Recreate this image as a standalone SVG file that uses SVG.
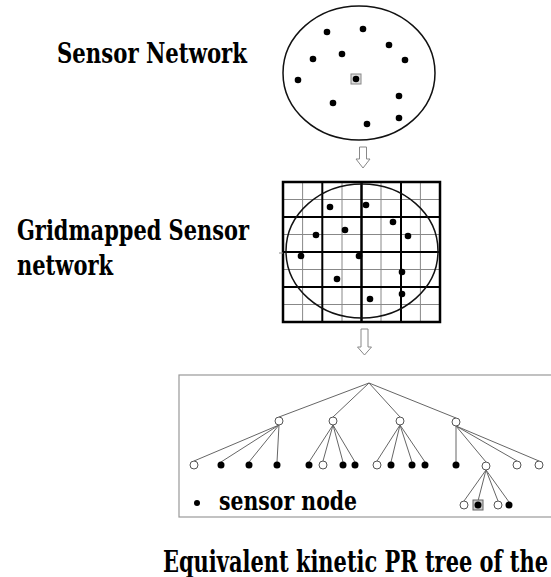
<svg xmlns="http://www.w3.org/2000/svg" width="551" height="577" viewBox="0 0 551 577">
<style>
text{font-family:'DejaVu Serif','Liberation Serif',serif;font-weight:bold;fill:#000}
.dot{fill:#000}
.hol{fill:#fff;stroke:#555;stroke-width:1}
.edge{stroke:#666;stroke-width:1;fill:none}
.thin{stroke:#888;stroke-width:1}
.thick{stroke:#000;stroke-width:2}
.arr{fill:#fff;stroke:#888;stroke-width:1}
</style>
<rect width="551" height="577" fill="#fff"/>
<text x="57" y="63" font-size="28" textLength="190" lengthAdjust="spacingAndGlyphs">Sensor Network</text>
<text x="17" y="240" font-size="28" textLength="232" lengthAdjust="spacingAndGlyphs">Gridmapped Sensor</text>
<text x="17" y="275" font-size="28" textLength="96" lengthAdjust="spacingAndGlyphs">network</text>
<text x="163" y="572" font-size="30" textLength="385" lengthAdjust="spacingAndGlyphs">Equivalent kinetic PR tree of the</text>

<g id="sensor-network">
<ellipse cx="359" cy="73" rx="76" ry="67" fill="none" stroke="#111" stroke-width="1.5"/>
<rect x="351" y="74" width="10" height="10" fill="#ddd" stroke="#888" stroke-width="1"/>
<g class="dot">
<circle cx="327" cy="32" r="3.3"/><circle cx="363" cy="29" r="3.3"/><circle cx="389" cy="45" r="3.3"/>
<circle cx="342" cy="54" r="3.3"/><circle cx="313" cy="59" r="3.3"/><circle cx="405" cy="60" r="3.3"/>
<circle cx="298" cy="80" r="3.3"/><circle cx="356" cy="79" r="3.3"/><circle cx="399" cy="96" r="3.3"/>
<circle cx="333" cy="103" r="3.3"/><circle cx="399" cy="118" r="3.3"/><circle cx="367" cy="124" r="3.3"/>
</g>
</g>

<g id="grid-network">
<g class="thin">
<line x1="302.6" y1="182" x2="302.6" y2="322"/><line x1="342" y1="182" x2="342" y2="322"/>
<line x1="381" y1="182" x2="381" y2="322"/><line x1="420.4" y1="182" x2="420.4" y2="322"/>
<line x1="283" y1="199.5" x2="440" y2="199.5"/><line x1="283" y1="234.5" x2="440" y2="234.5"/>
<line x1="283" y1="269.5" x2="440" y2="269.5"/><line x1="283" y1="304.5" x2="440" y2="304.5"/>
</g>
<g class="thick">
<line x1="322.3" y1="182" x2="322.3" y2="322"/><line x1="401" y1="182" x2="401" y2="322"/>
<line x1="361.5" y1="182" x2="361.5" y2="322" stroke-width="2.5"/>
<line x1="283" y1="217" x2="440" y2="217"/><line x1="283" y1="287" x2="440" y2="287"/>
<line x1="283" y1="252" x2="440" y2="252"/>
<rect x="283" y="182" width="157" height="140" fill="none" stroke-width="2.5"/>
</g>
<line x1="279" y1="253" x2="283" y2="253" stroke="#888" stroke-width="1"/>
<ellipse cx="362" cy="251" rx="76" ry="67" fill="none" stroke="#111" stroke-width="1.5"/>
<g class="dot">
<circle cx="330" cy="207" r="3.3"/><circle cx="366" cy="205" r="3.3"/><circle cx="393" cy="222" r="3.3"/>
<circle cx="345" cy="230" r="3.3"/><circle cx="316" cy="235" r="3.3"/><circle cx="408" cy="236" r="3.3"/>
<circle cx="301" cy="256" r="3.3"/><circle cx="359" cy="256" r="3.3"/><circle cx="402" cy="272" r="3.3"/>
<circle cx="337" cy="279" r="3.3"/><circle cx="402" cy="294" r="3.3"/><circle cx="370" cy="299" r="3.3"/>
</g>
</g>

<g id="arrows">
<path class="arr" d="M359.5,147 H366.5 V159 H370 L363,168 L356,159 H359.5 Z"/>
<path class="arr" d="M361,329 H368 V347 H371.5 L364.5,355 L357.5,347 H361 Z"/>
</g>

<g id="pr-tree">
<rect x="179" y="375" width="380" height="142" fill="none" stroke="#999" stroke-width="1.2"/>
<g class="edge">
<line x1="369" y1="383" x2="279" y2="417"/><line x1="369" y1="383" x2="333" y2="417"/>
<line x1="369" y1="383" x2="400" y2="417"/><line x1="369" y1="383" x2="456" y2="418"/>
<line x1="279" y1="425" x2="194" y2="461"/><line x1="279" y1="425" x2="221" y2="462"/>
<line x1="279" y1="425" x2="249" y2="462"/><line x1="279" y1="425" x2="277" y2="462"/>
<line x1="333" y1="425" x2="309" y2="462"/><line x1="333" y1="425" x2="323" y2="461"/>
<line x1="333" y1="425" x2="343" y2="462"/><line x1="333" y1="425" x2="355" y2="462"/>
<line x1="400" y1="425" x2="377" y2="461"/><line x1="400" y1="425" x2="391" y2="462"/>
<line x1="400" y1="425" x2="412" y2="462"/><line x1="400" y1="425" x2="425" y2="462"/>
<line x1="456" y1="426" x2="456" y2="462"/><line x1="456" y1="426" x2="486" y2="462"/>
<line x1="456" y1="426" x2="517" y2="461"/><line x1="456" y1="426" x2="539" y2="461"/>
<line x1="486" y1="470" x2="464" y2="501"/><line x1="486" y1="470" x2="478" y2="501"/>
<line x1="486" y1="470" x2="498" y2="501"/><line x1="486" y1="470" x2="509" y2="502"/>
</g>
<g class="hol">
<circle cx="279" cy="421" r="4"/><circle cx="333" cy="421" r="4"/><circle cx="400" cy="421" r="4"/><circle cx="456" cy="422" r="4"/>
<circle cx="194" cy="465" r="4"/><circle cx="323" cy="465" r="4"/><circle cx="377" cy="465" r="4"/>
<circle cx="486" cy="466" r="4"/><circle cx="517" cy="465" r="4"/><circle cx="539" cy="465" r="4"/>
<circle cx="464" cy="505" r="4"/><circle cx="498" cy="505" r="4"/>
</g>
<rect x="473" y="500" width="10" height="10" fill="#ccc" stroke="#666" stroke-width="1"/>
<g class="dot">
<circle cx="221" cy="465" r="3.5"/><circle cx="249" cy="465" r="3.5"/><circle cx="277" cy="465" r="3.5"/>
<circle cx="309" cy="465" r="3.5"/><circle cx="343" cy="465" r="3.5"/><circle cx="355" cy="465" r="3.5"/>
<circle cx="391" cy="465" r="3.5"/><circle cx="412" cy="465" r="3.5"/><circle cx="425" cy="465" r="3.5"/>
<circle cx="456" cy="465" r="3.5"/>
<circle cx="478" cy="505" r="3.5"/><circle cx="509" cy="505" r="3.5"/>
<circle cx="197" cy="503" r="3"/>
</g>
<text x="219" y="510" font-size="26" textLength="138" lengthAdjust="spacingAndGlyphs">sensor node</text>
</g>
</svg>
